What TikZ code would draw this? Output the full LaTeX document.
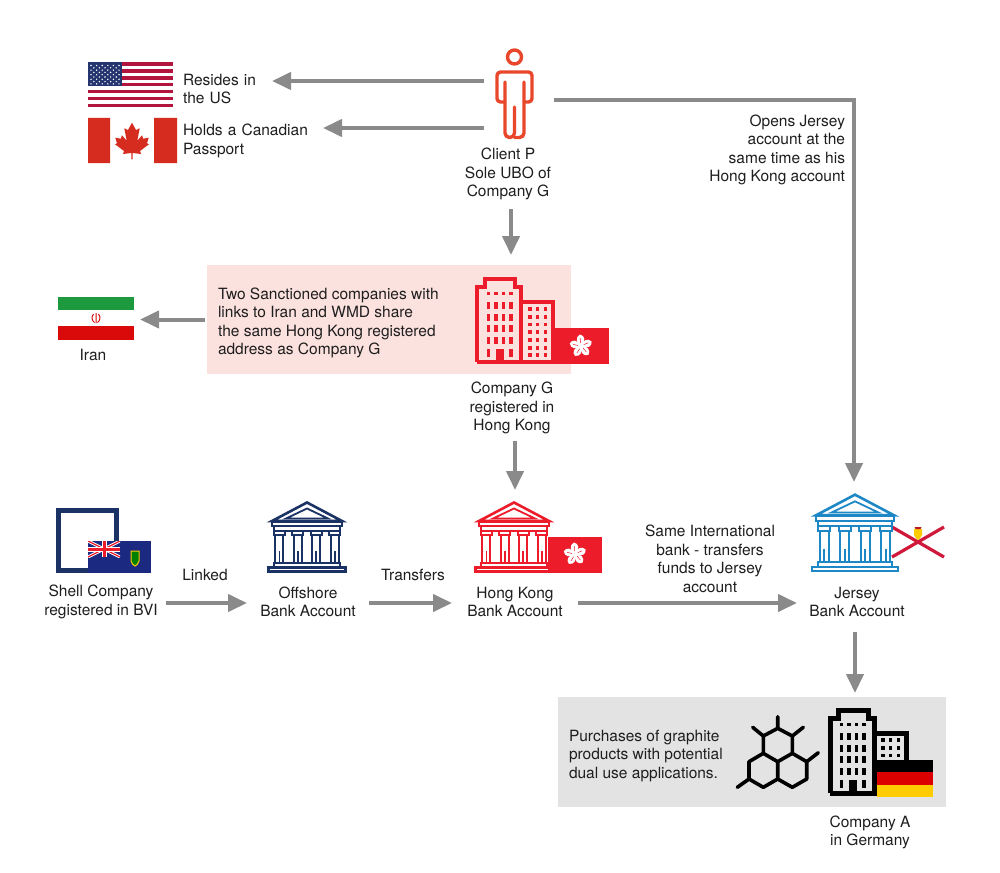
\documentclass[tikz,border=0pt]{standalone}
\usepackage{fontspec}
\setmainfont{TeX Gyre Heros}
\usetikzlibrary{arrows.meta,calc}
\definecolor{arrowgray}{HTML}{8A8A8A}
\definecolor{pinkbg}{HTML}{FCE2DE}
\definecolor{graybg}{HTML}{E3E3E3}
\definecolor{navy}{HTML}{1B3264}
\definecolor{hkred}{HTML}{EC1C2B}
\definecolor{bankblue}{HTML}{1E88C7}
\definecolor{personred}{HTML}{E8472C}
\definecolor{txt}{HTML}{1E1E1E}
\definecolor{usred}{HTML}{B2163F}
\definecolor{usblue}{HTML}{24356F}
\definecolor{careda}{HTML}{D62B1F}
\definecolor{jerseyred}{HTML}{D0183A}
\definecolor{irangreen}{HTML}{1E9A3E}
\definecolor{iranred}{HTML}{DA0A0A}
\definecolor{bviblue}{HTML}{1B2A80}
\definecolor{degold}{HTML}{FFCC00}
\definecolor{dered}{HTML}{DD0000}
\tikzset{
  x=1pt,y=-1pt,
  lbl/.style={font=\fontsize{15.5}{18.5}\selectfont,text=txt,inner sep=0pt,outer sep=0pt,align=center},
  hit/.style={inner sep=0pt,outer sep=0pt},
  arr/.style={draw=arrowgray,line width=4pt,-{Triangle[length=19pt,width=17pt]}},
  pics/bank/.style={code={
    \draw[#1,line width=2.6pt,line join=miter] (-35,20)--(0,1.5)--(35,20)--cycle;
    \draw[#1,line width=1.8pt] (-21,17.5)--(0,7.5)--(21,17.5)--cycle;
    \draw[#1,line width=2.2pt] (-35,21) rectangle (35,25);
    \draw[#1,line width=2pt] (-33,25) rectangle (33,29.5);
    \foreach \c in {-27.7,-9.2,9.2,27.7}{
      \draw[#1,line width=2pt] (\c-5.5,29.5) rectangle (\c+5.5,34);
      \draw[#1,line width=2.2pt] (\c-4,34)--(\c-4,62) (\c+4,34)--(\c+4,62);
      \draw[#1,line width=1.6pt] (\c,50)--(\c,62);
    }
    \draw[#1,line width=2.2pt] (-33,62) rectangle (33,66.5);
    \draw[#1,line width=2.2pt] (-38.5,66.5) rectangle (38.5,70.5);
  }},
  pics/tower/.style={code={
    \draw[#1,line cap=butt,line join=miter]
      (2,85)--(2,10)--(10,10)--(10,2)--(40,2)--(40,10)--(46,10)--(46,85)
      (46,25)--(78,25)--(78,85)--(2,85);
    \foreach \xx in {13.3,21,28.7,36}{ \fill[#1] (\xx-1.7,15) rectangle (\xx+1.7,18.4); }
    \foreach \xx in {13.3,21,28.7,36}{ \foreach \yy in {25,36.7,48.4,60}{
      \fill[#1] (\xx-1.7,\yy) rectangle (\xx+1.7,\yy+7); } }
    \foreach \xx in {13.3,36}{ \fill[#1] (\xx-1.7,72) rectangle (\xx+1.7,80); }
    \fill[#1] (21,72) rectangle (28.7,85);
    \foreach \xx in {55,62.7,70.3}{ \foreach \yy in {32,40,47.7,55,63,71,78}{
      \fill[#1] (\xx-1.7,\yy-1.7) rectangle (\xx+1.7,\yy+1.7); } }
  }},
  pics/bauhinia/.style={code={
    \foreach \a in {0,72,144,216,288}{
      \begin{scope}[rotate=\a]
        \fill[white] (0,0) .. controls (-5,-3) and (-6,-9) .. (-1,-11.5) .. controls (4,-10.5) and (5,-5) .. (0,0);
        \draw[hkred,line width=.5pt] (-.5,-3)--(-.8,-8);
      \end{scope}}
  }}
}
\begin{document}
\begin{tikzpicture}
\useasboundingbox (0,0) rectangle (1000,872);
\fill[white] (0,0) rectangle (1000,872);

% background panels
\node[hit,fill=pinkbg,minimum width=364pt,minimum height=109pt] (pinkPanel) at (389,319.5) {};
\node[hit,fill=graybg,minimum width=388pt,minimum height=110pt] (grayPanel) at (752,752) {};

% US flag
\fill[white] (88,62.5) rectangle (173,107);
\foreach \i in {0,...,6}{\fill[usred] (88,62.5+\i*6.85) rectangle (173,62.5+\i*6.85+3.4);}
\fill[usblue] (88,62.5) rectangle (122,86.5);
\foreach \r in {0,...,4}{\foreach \q in {0,...,5}{\fill[white] (91+\q*5.6,65.5+\r*4.6) circle (.8);}}
\foreach \r in {0,...,3}{\foreach \q in {0,...,4}{\fill[white] (93.8+\q*5.6,67.8+\r*4.6) circle (.8);}}

% Canada flag
\fill[careda] (88,118) rectangle (110,163) (154,118) rectangle (177,163);
\fill[careda] (132,122.7)--(136,130)--(139.7,128.3)--(137.3,140.7)--(142,135.3)--(143.3,138.7)--(148.7,137.7)--(147,143.3)--(149,144.3)--(140,151)--(141,154)--(132.7,153)--(132.7,159.3)--(131.3,159.3)--(131.3,153)--(123,154)--(124,151)--(115,144.3)--(117,143.3)--(115.3,137.7)--(120.7,138.7)--(122,135.3)--(126.7,140.7)--(124.3,128.3)--(128,130)--cycle;

% Iran flag
\node[hit,minimum width=76pt,minimum height=44pt] (iranFlag) at (96,318.5) {};
\fill[irangreen] (58,296.5) rectangle (134,310);
\fill[iranred] (58,325.5) rectangle (134,340);
\draw[iranred,line width=1pt] (96,313)--(96,323) (93.5,314) .. controls (91,317) and (92,321) .. (94.5,322.5) (98.5,314) .. controls (101,317) and (100,321) .. (97.5,322.5);

% person
\node[hit,minimum width=70pt,minimum height=100pt] (person) at (519,100) {};
\draw[personred,line width=3.4pt] (514.5,57) circle (7);
\begin{scope}[personred,line width=3.4pt,line cap=round,line join=round]
  \draw[rounded corners=4.5pt] (505,82)--(505,137.5)--(514.5,137.5)--(514.5,107);
  \draw[rounded corners=4.5pt] (524,82)--(524,137.5)--(514.5,137.5);
  \draw[rounded corners=3.5pt] (505,102)--(497,102)--(497,72)--(532,72)--(532,102)--(524,102);
\end{scope}

% Company G tower + flag
\node[hit,minimum width=80pt,minimum height=104pt] (companyIcon) at (515,312) {};
\pic[shift={(475,277)},line width=4pt] {tower=hkred};
\fill[hkred] (555,328) rectangle (609,364);
\pic at (581,346) {bauhinia};

% shell company
\node[hit,minimum width=95pt,minimum height=65pt] (shellIcon) at (103.5,540.5) {};
\draw[navy,line width=5pt] (58.5,510.5) rectangle (116.5,570.5);
\fill[bviblue] (88,541) rectangle (151,573);
\begin{scope}
  \clip (88,541) rectangle (120,557);
  \draw[white,line width=3pt] (88,541)--(120,557) (88,557)--(120,541);
  \draw[hkred,line width=1.2pt] (88,541)--(120,557) (88,557)--(120,541);
  \draw[white,line width=5pt] (104,541)--(104,557) (88,549)--(120,549);
  \draw[hkred,line width=3pt] (104,541)--(104,557) (88,549)--(120,549);
\end{scope}
\draw[degold,line width=1pt,fill=green!50!black] (131,551)--(139,551)--(139,561) .. controls (139,564) and (136,565) .. (135,566) .. controls (134,565) and (131,564) .. (131,561) -- cycle;

% banks
\node[hit,minimum width=80pt,minimum height=71pt] (offshoreIcon) at (307,536.5) {};
\pic[shift={(307,501)}] {bank=navy};
\node[hit,minimum width=80pt,minimum height=82pt] (hkIcon) at (515,531) {};
\pic[shift={(514,501)}] {bank=hkred};
\fill[hkred] (548,537) rectangle (602,573);
\pic at (575,554) {bauhinia};
\node[hit,minimum width=84pt,minimum height=90pt] (jerseyIcon) at (854,527) {};
\draw[jerseyred,line width=3.2pt] (892,527)--(944,557) (892,557)--(944,527);
\fill[degold] (914,529)--(922,529)--(922,535) .. controls (921,538) and (919,539) .. (918,540) .. controls (917,539) and (915,538) .. (914,535) -- cycle;
\fill[hkred!80!black] (914.5,527)--(915.5,529)--(920.5,529)--(921.5,527)--cycle;
\pic[shift={(855,493)},scale=1.11] {bank=bankblue};

% graphite
\draw[black,line width=3.6pt,line join=round,line cap=round]
  (777.7,728.3)--(792.3,736)--(792.3,753.3)--(777.7,761.7)--(763.3,753.3)--(763.3,736)--cycle
  (763.3,753.3)--(777.7,761.7)--(777.7,779)--(763.3,787.3)--(749,779)--(749,761.7)--cycle
  (792.3,753.3)--(806.7,761.7)--(806.7,779)--(792.3,787.3)--(777.7,779)--(777.7,761.7)--cycle
  (777.7,728.3)--(777.7,716.7)
  (763.3,736)--(752.7,727.3)
  (792.3,736)--(803.3,727.3)
  (806.7,761.7)--(818.3,752.7)
  (749,779)--(737.3,787.3);

% Company A tower + flag
\pic[shift={(828,708)},line width=5pt] {tower=black};
\fill[black] (877,760) rectangle (933,772);
\fill[dered] (877,772) rectangle (933,784.5);
\fill[degold] (877,784.5) rectangle (933,797);

% text labels
\node[lbl,text width=89pt,align=left,minimum height=37pt] (usText) at (227.5,89) {Resides in\\the US};
\node[lbl,text width=140pt,align=left,minimum height=37pt] (caText) at (253,141) {Holds a Canadian\\Passport};
\node[lbl,minimum width=100pt,minimum height=70pt] (clientLabel) at (508,174) {Client P\\Sole UBO of\\Company G};
\node[lbl,align=left,anchor=west] (pinkText) at (218,323) {Two Sanctioned companies with\\links to Iran and WMD share\\the same Hong Kong registered\\address as Company G};
\node[lbl] (iranLabel) at (93,354.5) {Iran};
\node[lbl,minimum width=100pt,minimum height=66pt] (companyLabel) at (512,408) {Company G\\registered in\\Hong Kong};
\node[lbl,align=right,anchor=east] (opensLabel) at (845,150) {Opens Jersey\\account at the\\same time as his\\Hong Kong account};
\node[lbl,minimum width=130pt,minimum height=59pt] (shellLabel) at (101,602) {Shell Company\\registered in BVI};
\node[lbl,minimum width=122pt,minimum height=59pt] (offshoreLabel) at (308,602) {Offshore\\Bank Account};
\node[lbl,minimum width=126pt,minimum height=59pt] (hkLabel) at (515,602) {Hong Kong\\Bank Account};
\node[lbl,minimum width=120pt,minimum height=59pt] (jerseyLabel) at (857,602) {Jersey\\Bank Account};
\node[lbl] (linkedLabel) at (205,575) {Linked};
\node[lbl] (transfersLabel) at (413,575) {Transfers};
\node[lbl] (sameLabel) at (710,559) {Same International\\bank - transfers\\funds to Jersey\\account};
\node[lbl,align=left,anchor=west] (grayText) at (569,756) {Purchases of graphite\\products with potential\\dual use applications.};
\node[lbl] (companyALabel) at (870,832.5) {Company A\\in Germany};

% connectors
\draw[arr] ([yshift=19pt]person.west) -- ([yshift=8pt]usText.east);
\draw[arr] ([yshift=-28pt]person.west) -- ([yshift=13pt]caText.east);
\draw[arr,rounded corners=0pt] (person.east) -| (jerseyIcon.north);
\draw[arr] ([xshift=3pt]clientLabel.south) -- ([xshift=-4pt,yshift=5pt]companyIcon.north);
\draw[arr,shorten <=2pt] (pinkPanel.west) -- ([xshift=6pt]pinkPanel.west -| iranFlag.east);
\draw[arr] ([xshift=3pt]companyLabel.south) -- (hkIcon.north);
\draw[arr] ([yshift=-1pt]shellLabel.east) -- ([yshift=-1pt]offshoreLabel.west);
\draw[arr] ([yshift=-1pt]offshoreLabel.east) -- ([yshift=-1pt]hkLabel.west);
\draw[arr] ([yshift=-1pt]hkLabel.east) -- ([yshift=-1pt]jerseyLabel.west);
\draw[arr,shorten >=4pt] ([xshift=-2pt]jerseyLabel.south) -- ([xshift=-2pt]jerseyLabel.south |- grayPanel.north);
\end{tikzpicture}
\end{document}
